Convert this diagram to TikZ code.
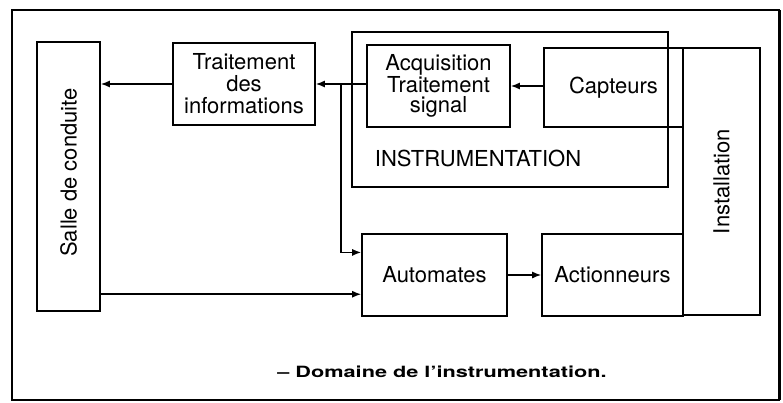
\documentclass[tikz,border=0pt]{standalone}
\usepackage{fontspec}
\setmainfont{TeX Gyre Heros}
\usepackage{graphicx}
\usetikzlibrary{positioning, arrows.meta, calc}

\begin{document}
\begin{tikzpicture}[x=1pt, y=-1pt, font=\fontsize{22}{22}\selectfont,
    box/.style={draw, line width=1.6pt, inner sep=0pt, align=center},
    arr/.style={line width=1.5pt, -{Latex[length=9pt,width=7pt]}}]
  \useasboundingbox (0,0) rectangle (783,402);
  % cadre
  \draw[line width=1.3pt] (12,10) rectangle (779,400);
  \draw[line width=3pt] (779,10) -- (779,400);

  % blocs
  \node[box, minimum width=63, minimum height=269] (salle) at (68.5,176.5) {};
  \node[rotate=90] at ($(salle)+(0,-4)$) {Salle de conduite};
  \node[box, minimum width=142, minimum height=82] (trait) at (244,84)
    {Traitement\\des\\informations};
  \node[box, line width=1.3pt, minimum width=316, minimum height=155] (instr) at (510,109.5) {};
  \node[anchor=west] (instrlbl) at ($(instr.south west)+(20,-29)$) {INSTRUMENTATION};
  \node[box, minimum width=143, minimum height=82, font=\fontsize{22}{20.5}\selectfont]
    (acq) at (438.5,86) {Acquisition\\Traitement\\signal};
  \node[box, minimum width=139, minimum height=79] (capt) at (613.5,87.5) {Capteurs};
  \node[box, minimum width=77, minimum height=267] (inst) at (721.5,181.5) {};
  \node[rotate=90] at (inst) {Installation};
  \node[box, minimum width=145, minimum height=82] (auto) at (434.5,275) {Automates};
  \node[box, minimum width=141, minimum height=82] (act) at (612.5,275) {Actionneurs};

  % liaisons
  \coordinate (jn) at ($(trait.east)+(25,0)$);
  \coordinate (autoin) at ($(auto.north west)!0.23!(auto.south west)$);
  \coordinate (salleout) at ($(auto.north west)!0.73!(auto.south west)$);
  \draw[arr] (trait.west) -- (salle.east |- trait.west);
  \draw[arr] (acq.west |- trait.east) -- (trait.east);
  \draw[arr] (jn) |- (autoin);
  \draw[arr] (capt.west |- acq.east) -- (acq.east);
  \draw[arr] (salle.east |- salleout) -- (salleout);
  \draw[arr] (auto.east) -- (act.west);

  \node[font=\fontsize{15.5}{18}\selectfont\bfseries] (titre) at (442,372)
    {\scalebox{1.4}[1]{-- Domaine de l'instrumentation.}};
\end{tikzpicture}
\end{document}
